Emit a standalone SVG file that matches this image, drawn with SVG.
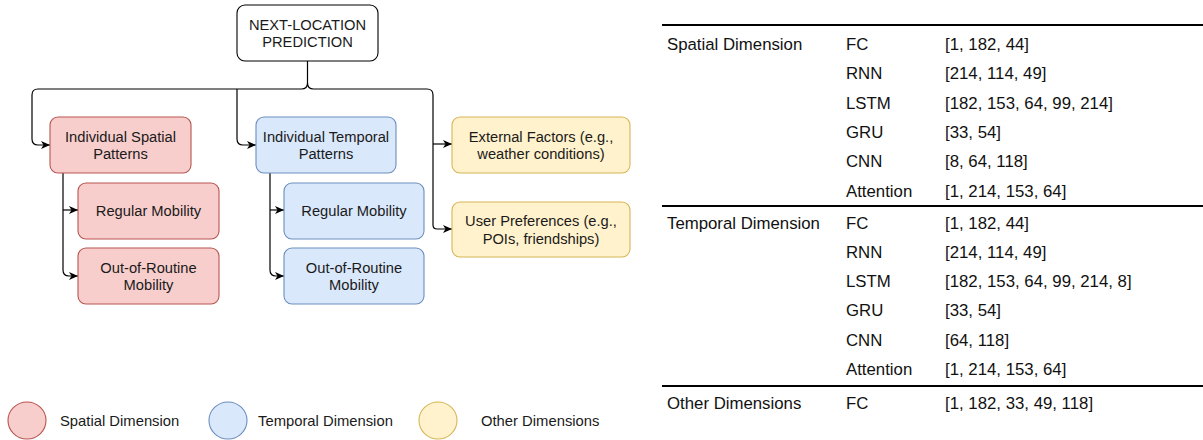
<svg xmlns="http://www.w3.org/2000/svg" width="1203" height="440" viewBox="0 0 1203 440">
<style>
text{font-family:"Liberation Sans",Arial,Helvetica,sans-serif;fill:#1a1a1a}
.n{font-size:14.7px;text-anchor:middle}
.lg{font-size:14.8px}
.t{font-size:16.8px;fill:#111}
.box{stroke-width:1.1}
.red{fill:#f8cecc;stroke:#b85450}
.blue{fill:#dae8fc;stroke:#6c8ebf}
.yel{fill:#fff2cc;stroke:#d6b656}
.wht{fill:#ffffff;stroke:#000000}
.c{fill:none;stroke:#000;stroke-width:1.2}
.rule{stroke:#000;stroke-width:1.8}
</style>
<defs>
<marker id="arr" markerUnits="userSpaceOnUse" markerWidth="9" markerHeight="8" viewBox="0 0 9 8" refX="9" refY="4" orient="auto">
<path d="M0,0 L9,4 L0,8 L2.5,4 Z" fill="#000"/>
</marker>
</defs>

<g id="connectors">
<path class="c" d="M307.5,61 V83 Q307.5,89 301.5,89 H38 Q32,89 32,95 V139 Q32,145 38,145 H50" marker-end="url(#arr)"/>
<path class="c" d="M237,89 V139 Q237,145 243,145 H256" marker-end="url(#arr)"/>
<path class="c" d="M307.5,83 Q307.5,89 313.5,89 H427 Q433,89 433,95 V225 Q433,229 437,229 H452" marker-end="url(#arr)"/>
<path class="c" d="M433,144 H452" marker-end="url(#arr)"/>
<path class="c" d="M63,173 V270 Q63,276 69,276 H78" marker-end="url(#arr)"/>
<path class="c" d="M63,210 H78" marker-end="url(#arr)"/>
<path class="c" d="M270,173 V270 Q270,276 276,276 H284" marker-end="url(#arr)"/>
<path class="c" d="M270,210 H284" marker-end="url(#arr)"/>
</g>

<g id="root">
<rect class="box wht" x="237" y="5" width="141" height="56" rx="8"/>
<text class="n" x="307.5" y="29.5">NEXT-LOCATION</text>
<text class="n" x="307.5" y="47">PREDICTION</text>
</g>
<g id="spatial">
<rect class="box red" x="50" y="117" width="141" height="56" rx="8"/>
<text class="n" x="120.5" y="141.5">Individual Spatial</text>
<text class="n" x="120.5" y="159">Patterns</text>
</g>
<g id="temporal">
<rect class="box blue" x="256" y="117" width="140" height="56" rx="8"/>
<text class="n" x="326" y="141.5">Individual Temporal</text>
<text class="n" x="326" y="159">Patterns</text>
</g>
<g id="spatial-regular">
<rect class="box red" x="78" y="183" width="141" height="56" rx="8"/>
<text class="n" x="148.5" y="216">Regular Mobility</text>
</g>
<g id="spatial-outofroutine">
<rect class="box red" x="78" y="248" width="141" height="56" rx="8"/>
<text class="n" x="148.5" y="272.5">Out-of-Routine</text>
<text class="n" x="148.5" y="290">Mobility</text>
</g>
<g id="temporal-regular">
<rect class="box blue" x="284" y="183" width="140" height="56" rx="8"/>
<text class="n" x="354" y="216">Regular Mobility</text>
</g>
<g id="temporal-outofroutine">
<rect class="box blue" x="284" y="248" width="140" height="56" rx="8"/>
<text class="n" x="354" y="272.5">Out-of-Routine</text>
<text class="n" x="354" y="290">Mobility</text>
</g>
<g id="external">
<rect class="box yel" x="452" y="117" width="178" height="56" rx="8"/>
<text class="n" x="541" y="141.5">External Factors (e.g.,</text>
<text class="n" x="541" y="159">weather conditions)</text>
</g>
<g id="preferences">
<rect class="box yel" x="452" y="202" width="178" height="55" rx="8"/>
<text class="n" x="541" y="226">User Preferences (e.g.,</text>
<text class="n" x="541" y="243.5">POIs, friendships)</text>
</g>

<g id="legend">
<ellipse class="box red" cx="27" cy="420.5" rx="19" ry="18.5"/>
<text class="lg" x="60" y="425.5">Spatial Dimension</text>
<ellipse class="box blue" cx="228" cy="420.5" rx="19" ry="18.5"/>
<text class="lg" x="258" y="425.5">Temporal Dimension</text>
<ellipse class="box yel" cx="438" cy="420.5" rx="19" ry="18.5"/>
<text class="lg" x="481" y="425.5">Other Dimensions</text>
</g>

<g id="table">
<line class="rule" x1="662" y1="25" x2="1203" y2="25"/>
<line class="rule" x1="662" y1="206" x2="1203" y2="206"/>
<line class="rule" x1="662" y1="386" x2="1203" y2="386"/>
<text class="t" x="667" y="50">Spatial Dimension</text>
<text class="t" x="846" y="50">FC</text><text class="t" x="945" y="50">[1, 182, 44]</text>
<text class="t" x="846" y="79.3">RNN</text><text class="t" x="945" y="79.3">[214, 114, 49]</text>
<text class="t" x="846" y="108.6">LSTM</text><text class="t" x="945" y="108.6">[182, 153, 64, 99, 214]</text>
<text class="t" x="846" y="137.9">GRU</text><text class="t" x="945" y="137.9">[33, 54]</text>
<text class="t" x="846" y="167.2">CNN</text><text class="t" x="945" y="167.2">[8, 64, 118]</text>
<text class="t" x="846" y="196.5">Attention</text><text class="t" x="945" y="196.5">[1, 214, 153, 64]</text>
<text class="t" x="667" y="228.5">Temporal Dimension</text>
<text class="t" x="846" y="228.5">FC</text><text class="t" x="945" y="228.5">[1, 182, 44]</text>
<text class="t" x="846" y="257.8">RNN</text><text class="t" x="945" y="257.8">[214, 114, 49]</text>
<text class="t" x="846" y="287.1">LSTM</text><text class="t" x="945" y="287.1">[182, 153, 64, 99, 214, 8]</text>
<text class="t" x="846" y="316.4">GRU</text><text class="t" x="945" y="316.4">[33, 54]</text>
<text class="t" x="846" y="345.7">CNN</text><text class="t" x="945" y="345.7">[64, 118]</text>
<text class="t" x="846" y="375">Attention</text><text class="t" x="945" y="375">[1, 214, 153, 64]</text>
<text class="t" x="667" y="409">Other Dimensions</text>
<text class="t" x="846" y="409">FC</text><text class="t" x="945" y="409">[1, 182, 33, 49, 118]</text>
</g>
</svg>
